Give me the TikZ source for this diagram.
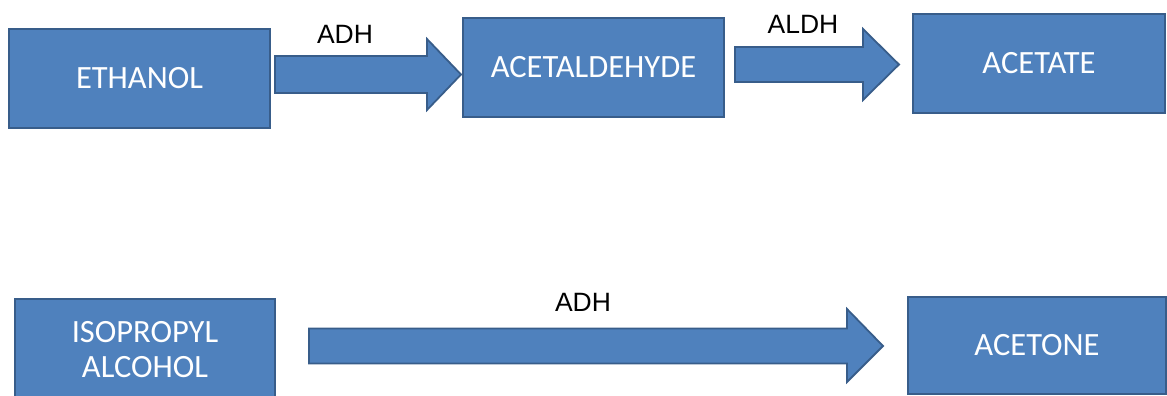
\documentclass[tikz,border=0pt]{standalone}
\usepackage{fontspec}
\setmainfont{Carlito}
\newfontfamily\labelfont{Liberation Sans}
\definecolor{boxfill}{HTML}{4F81BD}
\definecolor{boxline}{HTML}{385D8A}
\begin{document}
\begin{tikzpicture}[x=1pt,y=-1pt,
  chem/.style={draw=boxline,line width=1.8pt,fill=boxfill,text=white,
    font=\fontsize{32.5}{35}\selectfont,align=center,inner sep=0pt},
  fat/.style={draw=boxline,line width=1.8pt,fill=boxfill},
  enz/.style={font=\labelfont\fontsize{26.5}{30}\selectfont,text=black,inner sep=0pt}]
\useasboundingbox (0,0) rectangle (1167,396);
% boxes
\node[chem,minimum width=261pt,minimum height=99pt] (ethanol) at (139.5,78.5) {ETHANOL};
\node[chem,minimum width=261pt,minimum height=99pt] (acetald) at (593.5,67.5) {ACETALDEHYDE};
\node[chem,minimum width=252pt,minimum height=99pt] (acetate) at (1039,63.5) {ACETATE};
\node[chem,minimum width=260pt,minimum height=101pt] (ipa) at (145,349.5) {ISOPROPYL\\ALCOHOL};
\node[chem,minimum width=258pt,minimum height=97pt] (acetone) at (1037,345.5) {ACETONE};
% block arrows
\draw[fat] (275,56) -- (427,56) -- (427,39) -- (461,74.5) -- (427,110) -- (427,93) -- (275,93) -- cycle;
\draw[fat] (735,47) -- (863,47) -- (863,29) -- (899,64.5) -- (863,100) -- (863,82) -- (735,82) -- cycle;
\draw[fat] (309,328.5) -- (847,328.5) -- (847,309) -- (883,346) -- (847,382) -- (847,363.5) -- (309,363.5) -- cycle;
% enzyme labels
\node[enz] (adh1) at (345,34) {ADH};
\node[enz] (aldh) at (803,24) {ALDH};
\node[enz] (adh2) at (583,302) {ADH};
\end{tikzpicture}
\end{document}
